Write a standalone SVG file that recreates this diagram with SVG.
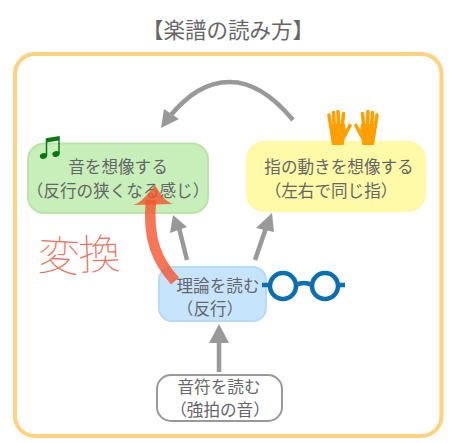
<svg xmlns="http://www.w3.org/2000/svg" width="450" height="443" viewBox="0 0 450 443">
<defs>
<style>
text{font-family:"Noto Sans CJK JP","Noto Sans CJK SC",sans-serif;fill:#666;font-size:16.6px;text-anchor:middle}
.conn{fill:none;stroke:#999;stroke-width:4.500}
.head{fill:#999}
.finger{fill:none;stroke:#ffa000;stroke-width:3.600;stroke-linecap:round}
</style>
<g id="hand">
<path d="M329 124H345L346 133L343.500 145H332L330.500 136Z" fill="#ffa000"/>
<path class="finger" d="M331 128L329 115M334.500 128L333.500 112.500M338.500 128L338 111.500M342 128L343.500 113.500M344.500 136L350 125.500"/>
</g>
</defs>
<rect width="450" height="443" fill="#fff"/>
<text id="title" x="228" y="38" style="font-size:21.500px">【楽譜の読み方】</text>
<rect id="frame" x="15" y="54" width="426.500" height="382" rx="20" fill="none" stroke="#ffd27f" stroke-width="4"/>
<g id="node-sound">
<rect x="28" y="143.500" width="180" height="69.500" rx="16" fill="#c8efba" stroke="#b9e3ab" stroke-width="2"/>
<text x="118" y="173">音を想像する</text>
<text x="118" y="197">（反行の狭くなる感じ）</text>
<g fill="#0a7a10" stroke="#0a7a10">
<ellipse cx="43.500" cy="156" rx="3.200" ry="2.300" transform="rotate(-20 43.500 156)"/>
<ellipse cx="56" cy="154" rx="3.200" ry="2.300" transform="rotate(-20 56 154)"/>
<path d="M46.500 155.500V139L59 137V153.500" fill="none" stroke-width="1.500"/>
<path d="M46.500 139L59 137V140.500L46.500 142.500Z" stroke="none"/>
</g>
</g>
<g id="node-finger">
<rect x="246" y="141" width="180" height="71" rx="18" fill="#fefaa8"/>
<text x="339" y="173">指の動きを想像する</text>
<text x="331" y="197">（左右で同じ指）</text>
<use href="#hand"/>
<use href="#hand" transform="matrix(-1 0 0 1 706 0)"/>
</g>
<g id="node-theory">
<rect x="159" y="267" width="107" height="54" rx="13" fill="#c6e5fd" stroke="#b8daf5" stroke-width="2"/>
<text x="218" y="292">理論を読む</text>
<text x="210" y="315">（反行）</text>
</g>
<g id="glasses" fill="none" stroke="#0a6fb0" stroke-width="4.500">
<circle cx="283" cy="286" r="13"/>
<circle cx="325" cy="286" r="13"/>
<path d="M262 285H270M296 285Q304 281 312 285M338 285H345"/>
</g>
<g id="node-note">
<rect x="157" y="375" width="125" height="46" rx="14" fill="#fff" stroke="#999" stroke-width="2"/>
<text x="219" y="393">音符を読む</text>
<text x="220" y="416">（強拍の音）</text>
</g>
<g id="connectors">
<path class="conn" d="M293 120C268 90 246 82 230 82C205 82 187 96 170 116"/>
<path class="head" d="M161 128L164 109L179 119Z"/>
<path class="conn" d="M219 372V338"/>
<path class="head" d="M219 324L229 343H209Z"/>
<path class="conn" d="M187 260L179 228"/>
<path class="head" d="M173 215L187 227L170 233Z"/>
<path class="conn" d="M255 260L266 228"/>
<path class="head" d="M272 213L274 232L256 228Z"/>
<path d="M175 281C158 262 147 240 151 200" fill="none" stroke="#f4542d" stroke-opacity=".8" stroke-width="10.500"/>
<path d="M133 205C141 203 147 195 155 185C161 195 166 202 173 204Z" fill="#f4542d" fill-opacity=".8"/>
</g>
<text id="handwriting" x="37" y="270" rotate="3 -2" style="font-size:42px;font-weight:100;fill:#e8735f;text-anchor:start">変換</text>
</svg>
